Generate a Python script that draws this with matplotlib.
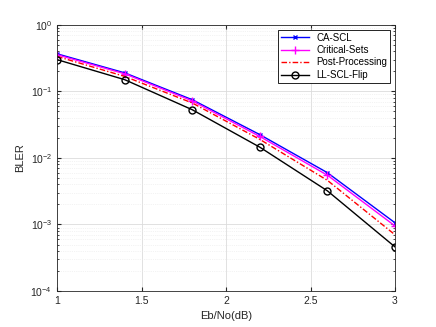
import numpy as np
import matplotlib.pyplot as plt

plt.rcParams['font.family'] = ['Liberation Sans', 'DejaVu Sans']

ebno = [1.0, 1.4, 1.8, 2.2, 2.6, 3.0]
ca_scl = [0.367, 0.19, 0.075, 0.0224, 0.006, 0.00106]
critical_sets = [0.355, 0.184, 0.072, 0.021, 0.0055, 0.00095]
post_processing = [0.335, 0.168, 0.067, 0.019, 0.0046, 0.00070]
ll_scl_flip = [0.30, 0.15, 0.053, 0.0145, 0.0032, 0.00046]

fig = plt.figure(figsize=(4.36, 3.27), dpi=100)
ax = fig.add_axes([0.131, 0.110, 0.775, 0.814])

ax.semilogy(ebno, ca_scl, color='blue', marker='x', markersize=3.5, lw=1, label='CA-SCL')
ax.semilogy(ebno, critical_sets, color='magenta', marker='+', markersize=6, lw=1, label='Critical-Sets')
ax.semilogy(ebno, post_processing, color='red', dashes=(4, 1.5, 1, 1.5), lw=1, label='Post-Processing')
ax.semilogy(ebno, ll_scl_flip, color='black', marker='o', markersize=5, mfc='none', lw=1, label='LL-SCL-Flip')

ax.set_xlim(1, 3)
ax.set_ylim(1e-4, 1)
ax.set_xticks([1, 1.5, 2, 2.5, 3])
ax.set_xticklabels(['1', '1.5', '2', '2.5', '3'])
ax.grid(True, which='major', color='#dcdcdc', lw=0.6)
ax.grid(True, which='minor', color='#e8e8e8', lw=0.5, ls=':')
ax.tick_params(which='both', direction='in', top=True, right=True, labelsize=7.5, colors='#262626')
ax.tick_params(which='major', length=3)
ax.tick_params(which='minor', length=1.5)
for s in ax.spines.values():
    s.set_color('#262626')
    s.set_linewidth(0.6)

ax.set_xlabel('Eb/No(dB)', fontsize=8, color='#262626')
ax.set_ylabel('BLER', fontsize=8, color='#262626')

leg = ax.legend(loc='upper right', fontsize=7, fancybox=False, framealpha=1,
                edgecolor='black', borderpad=0.3, labelspacing=0.25, handlelength=2.8)
leg.get_frame().set_linewidth(0.6)

fig.savefig('out.png', dpi=100)
